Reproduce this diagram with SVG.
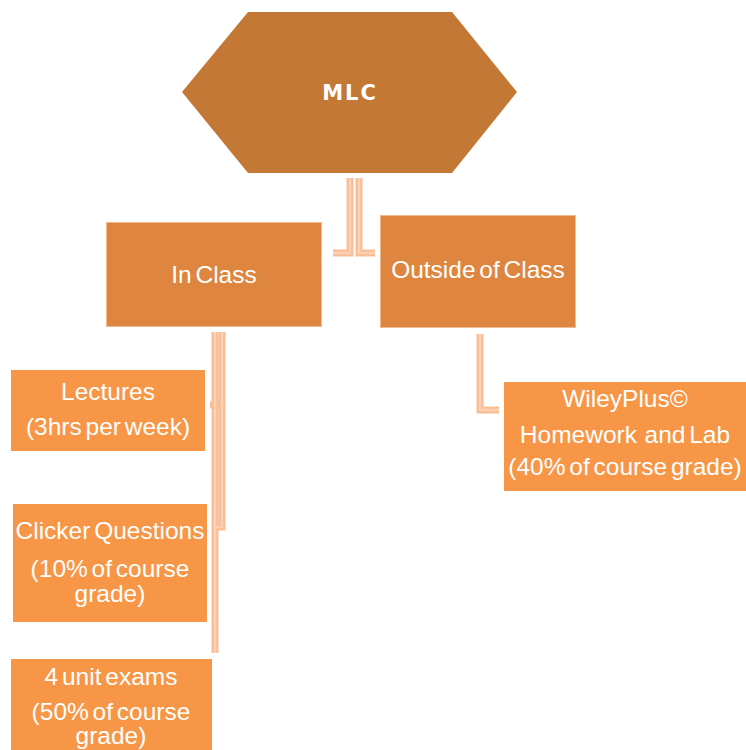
<svg xmlns="http://www.w3.org/2000/svg" width="746" height="750" viewBox="0 0 746 750">
<style>
.bg{fill:#FFFFFF}
.mid{fill:#DE8640;stroke:#F2B98C;stroke-width:1}
.leaf{fill:#F79646}
.hex{fill:#C47835}
.t{font-family:"Liberation Sans",Arial,sans-serif;font-size:24.5px;fill:#FFFFFF;text-anchor:middle;word-spacing:-3px}
.tb{font-family:"DejaVu Sans",Verdana,sans-serif;font-weight:bold;font-size:21px;fill:#FFFFFF;text-anchor:middle;letter-spacing:2px}
.c1{fill:none;stroke:#F9BD96;stroke-width:7}
.c2{fill:none;stroke:#FCD1B4;stroke-width:2.5}
</style>
<rect class="bg" x="0" y="0" width="746" height="750"/>
<g id="connectors">
  <path class="c1" d="M350 178 V253 H333"/>
  <path class="c1" d="M359 178 V253 H375"/>
  <path class="c1" d="M215 332 V653"/>
  <path class="c1" d="M222 332 V527 H213"/>
  <path class="c1" d="M225 405 H210"/>
  <path class="c1" d="M480 334 V410 H499"/>
  <path class="c2" d="M350 178 V253 H333"/>
  <path class="c2" d="M359 178 V253 H375"/>
  <path class="c2" d="M215 332 V653"/>
  <path class="c2" d="M222 332 V527 H213"/>
  <path class="c2" d="M480 334 V410 H499"/>
</g>
<g id="mlc">
  <polygon class="hex" points="248,12 452,12 517,92 452,173 248,173 182,92"/>
  <text class="tb" x="350" y="100">MLC</text>
</g>
<g id="in-class">
  <rect class="mid" x="106.5" y="222.5" width="215" height="104"/>
  <text class="t" x="214" y="283">In Class</text>
</g>
<g id="outside-class">
  <rect class="mid" x="380.5" y="215.5" width="195" height="112"/>
  <text class="t" x="478" y="278">Outside of Class</text>
</g>
<g id="lectures">
  <rect class="leaf" x="11" y="370" width="194" height="81"/>
  <text class="t" x="108" y="400">Lectures</text>
  <text class="t" x="108" y="435">(3hrs per week)</text>
</g>
<g id="clicker">
  <rect class="leaf" x="13" y="504" width="194" height="118"/>
  <text class="t" x="110" y="539">Clicker Questions</text>
  <text class="t" x="110" y="577">(10% of course</text>
  <text class="t" x="110" y="602">grade)</text>
</g>
<g id="exams">
  <rect class="leaf" x="11" y="659" width="201" height="91"/>
  <text class="t" x="111" y="685">4 unit exams</text>
  <text class="t" x="111" y="720">(50% of course</text>
  <text class="t" x="111" y="744">grade)</text>
</g>
<g id="wileyplus">
  <rect class="leaf" x="504" y="382" width="242" height="109"/>
  <text class="t" x="625" y="407">WileyPlus©</text>
  <text class="t" x="625" y="443" xml:space="preserve">Homework  and Lab</text>
  <text class="t" x="625" y="475">(40% of course grade)</text>
</g>
</svg>
